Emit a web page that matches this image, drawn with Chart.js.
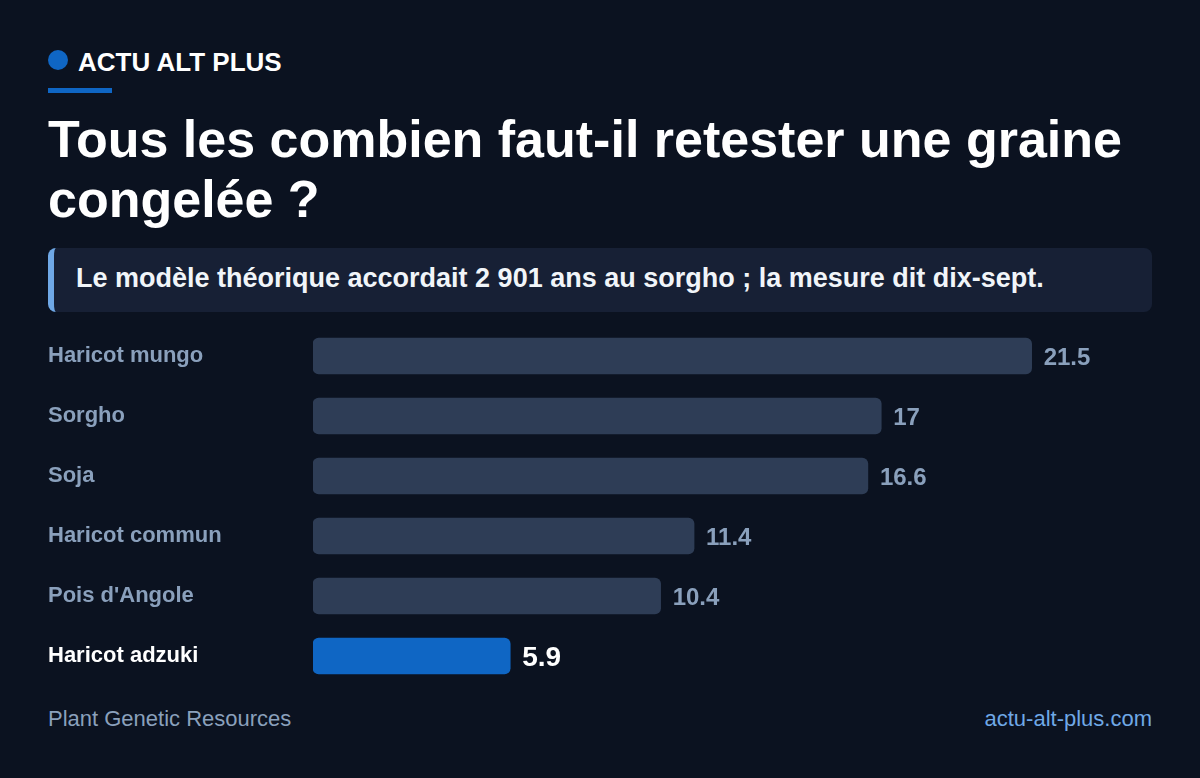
<!DOCTYPE html>
<html lang="fr">
<head>
<meta charset="utf-8">
<script src="https://cdn.jsdelivr.net/npm/chart.js@4.4.1/dist/chart.umd.min.js"></script>
<style>
  html, body { margin: 0; padding: 0; }
  body { width: 1200px; height: 778px; background: #0b1220; position: relative; overflow: hidden;
         font-family: "Liberation Sans", Arial, sans-serif; }
  .brand { position: absolute; left: 48px; top: 44px; height: 36px; display: flex; align-items: center; }
  .dot { width: 20px; height: 20px; border-radius: 50%; background: #0f66c4; margin-right: 10px; margin-top: -4px; }
  .brand span { color: #ffffff; font-weight: 700; font-size: 26px; }
  .rule { position: absolute; left: 48px; top: 88px; width: 64px; height: 5px; background: #0f66c4; }
  h1 { position: absolute; left: 48px; top: 109px; width: 1110px; margin: 0; color: #ffffff;
       font-size: 52px; line-height: 60px; font-weight: 700; }
  .callout { position: absolute; left: 48px; top: 248px; width: 1104px; height: 64px; background: #172035;
             border-radius: 8px; box-sizing: border-box; border-left: 6px solid #6fa8e6; }
  .callout p { margin: 0; position: absolute; left: 22px; top: 0; line-height: 60px; color: #f1f5f9;
               font-size: 27px; font-weight: 700; }
  #wrap { position: absolute; left: 48px; top: 314px; width: 1104px; height: 384px; }
  .foot { position: absolute; top: 704px; font-size: 22px; line-height: 30px; }
  .foot.l { left: 48px; color: #8aa0bc; }
  .foot.r { right: 48px; color: #6fa8e6; }
</style>
</head>
<body>
<div class="brand"><div class="dot"></div><span>ACTU ALT PLUS</span></div>
<div class="rule"></div>
<h1>Tous les combien faut-il retester une graine congelée ?</h1>
<div class="callout"><p>Le modèle théorique accordait 2 901 ans au sorgho ; la mesure dit dix-sept.</p></div>
<div id="wrap"><canvas id="c"></canvas></div>
<div class="foot l">Plant Genetic Resources</div>
<div class="foot r">actu-alt-plus.com</div>
<script>
const categories = ["Haricot mungo", "Sorgho", "Soja", "Haricot commun", "Pois d'Angole", "Haricot adzuki"];
const values = [21.5, 17, 16.6, 11.4, 10.4, 5.9];
const highlightIndex = 5;

const FONT = '"Liberation Sans", Arial, sans-serif';
const muted = '#8aa0bc';

const valueLabels = {
  id: 'valueLabels',
  afterDatasetsDraw(chart) {
    const ctx = chart.ctx;
    const meta = chart.getDatasetMeta(0);
    ctx.save();
    meta.data.forEach((bar, i) => {
      const hi = i === highlightIndex;
      ctx.font = (hi ? '700 28px ' : '700 24px ') + FONT;
      ctx.fillStyle = hi ? '#ffffff' : muted;
      ctx.textAlign = 'left';
      ctx.textBaseline = 'middle';
      ctx.fillText(String(values[i]), bar.x + 12, bar.y + 2);
    });
    ctx.restore();
  }
};

new Chart(document.getElementById('c'), {
  type: 'bar',
  data: {
    labels: categories,
    datasets: [{
      data: values,
      backgroundColor: values.map((v, i) => i === highlightIndex ? '#0f66c4' : '#2e3d56'),
      borderRadius: 6,
      borderSkipped: false,
      barThickness: 36
    }]
  },
  options: {
    indexAxis: 'y',
    responsive: true,
    maintainAspectRatio: false,
    animation: false,
    layout: { padding: 0 },
    plugins: { legend: { display: false }, tooltip: { enabled: false } },
    scales: {
      x: { display: false, min: 0, max: 25.1 },
      y: {
        grid: { display: false },
        border: { display: false },
        afterFit(scale) { scale.width = 265; },
        ticks: {
          crossAlign: 'far',
          padding: 0,
          color: (c) => c.index === highlightIndex ? '#ffffff' : muted,
          font: { family: FONT, size: 22, weight: '700', lineHeight: '24px' }
        }
      }
    }
  },
  plugins: [valueLabels]
});
</script>
</body>
</html>
